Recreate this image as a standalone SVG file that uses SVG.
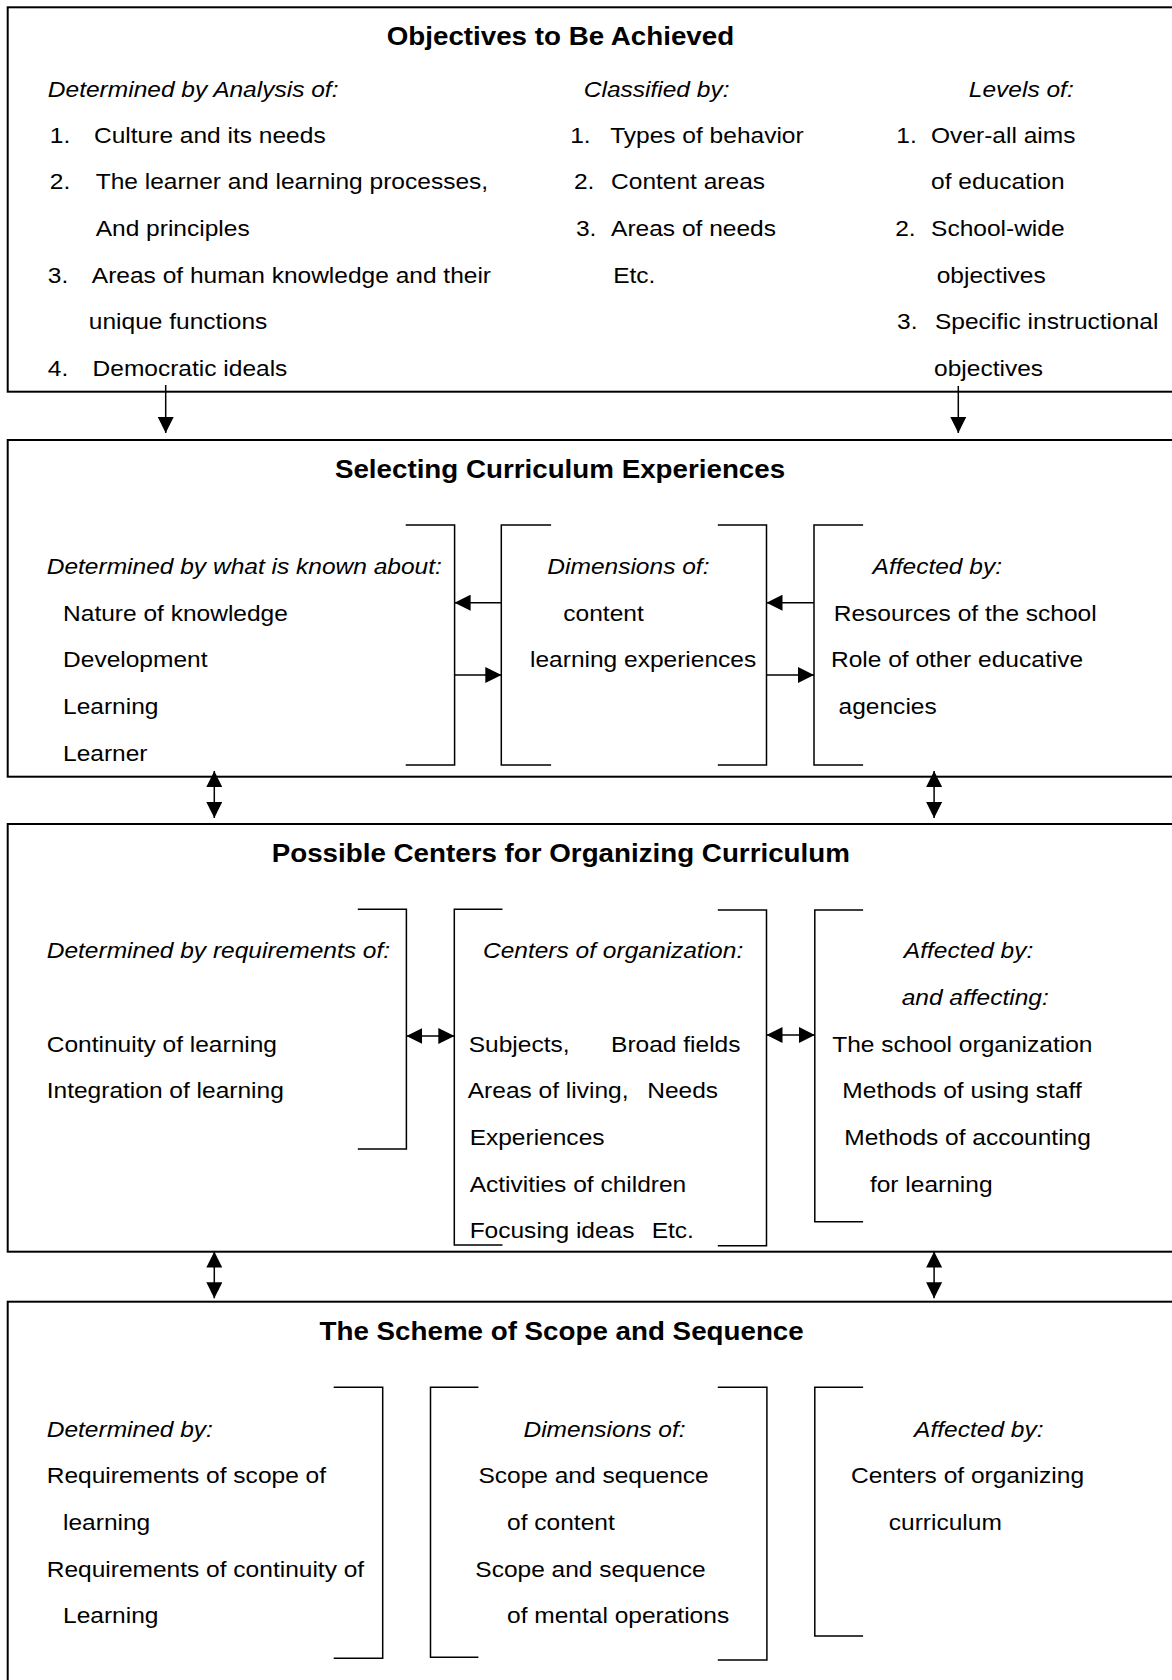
<svg xmlns="http://www.w3.org/2000/svg" width="1172" height="1680" viewBox="0 0 1172 1680">
  <style>
    .box { fill: none; stroke: #000; stroke-width: 2; }
    .brk { fill: none; stroke: #000; stroke-width: 1.5; }
    .con { fill: none; stroke: #000; stroke-width: 1.5; }
    text { font-family: "Liberation Sans", Arial, sans-serif; font-size: 22.1px; fill: #000; }
    .ttl { font-weight: bold; font-size: 25px; }
    .it { font-style: italic; }
  </style>
  <defs>
    <marker id="head" viewBox="0 0 16 16" markerWidth="16" markerHeight="16" refX="16" refY="8" orient="auto-start-reverse" markerUnits="userSpaceOnUse">
      <path d="M0,0 L16,8 L0,16 z" fill="#000"/>
    </marker>
  </defs>
  <rect width="1172" height="1680" fill="#fff"/>

  <!-- Objectives to Be Achieved -->
  <g id="objectives">
    <rect class="box" x="7.7" y="7.3" width="1180" height="384.4"/>
    <g transform="scale(1.11 1)">
      <text class="ttl" x="348.4" y="45">Objectives to Be Achieved</text>
      <text class="it" x="43.1" y="96.7">Determined by Analysis of:</text>
      <text x="44.9" y="142.7">1.</text><text x="84.7" y="142.7">Culture and its needs</text>
      <text x="44.9" y="189.3">2.</text><text x="86.2" y="189.3">The learner and learning processes,</text>
      <text x="86.2" y="236">And principles</text>
      <text x="43.1" y="282.7">3.</text><text x="82.7" y="282.7">Areas of human knowledge and their</text>
      <text x="80" y="329.3">unique functions</text>
      <text x="43.1" y="376">4.</text><text x="83.4" y="376">Democratic ideals</text>

      <text class="it" x="525.9" y="96.7">Classified by:</text>
      <text x="513.7" y="142.7">1.</text><text x="549.7" y="142.7">Types of behavior</text>
      <text x="517.1" y="189.3">2.</text><text x="550.5" y="189.3">Content areas</text>
      <text x="518.9" y="236">3.</text><text x="550.5" y="236">Areas of needs</text>
      <text x="552.4" y="282.7">Etc.</text>

      <text class="it" x="872.8" y="96.7">Levels of:</text>
      <text x="807.5" y="142.7">1.</text><text x="838.8" y="142.7">Over-all aims</text>
      <text x="838.8" y="189.3">of education</text>
      <text x="806.5" y="236">2.</text><text x="838.8" y="236">School-wide</text>
      <text x="843.9" y="282.7">objectives</text>
      <text x="808.2" y="329.3">3.</text><text x="842.3" y="329.3">Specific instructional</text>
      <text x="841.5" y="376">objectives</text>
    </g>
  </g>

  <!-- Selecting Curriculum Experiences -->
  <g id="selecting">
    <rect class="box" x="7.7" y="440" width="1180" height="336.7"/>
    <path class="brk" d="M405.7,525 H454.6 V765 H405.7"/>
    <path class="brk" d="M551.1,525 H501.3 V765 H551.1"/>
    <path class="brk" d="M717.8,525 H766.5 V765 H717.8"/>
    <path class="brk" d="M863.1,525 H814 V765 H863.1"/>
    <g transform="scale(1.11 1)">
      <text class="ttl" x="301.7" y="478">Selecting Curriculum Experiences</text>
      <text class="it" x="42.1" y="574">Determined by what is known about:</text>
      <text x="56.8" y="620.7">Nature of knowledge</text>
      <text x="56.8" y="667.3">Development</text>
      <text x="56.8" y="714">Learning</text>
      <text x="56.8" y="760.7">Learner</text>

      <text class="it" x="493.1" y="574">Dimensions of:</text>
      <text x="507.5" y="620.7">content</text>
      <text x="477.5" y="667.3">learning experiences</text>

      <text class="it" x="786.1" y="574">Affected by:</text>
      <text x="751.1" y="620.7">Resources of the school</text>
      <text x="748.6" y="667.3">Role of other educative</text>
      <text x="755.5" y="714">agencies</text>
    </g>
  </g>

  <!-- Possible Centers for Organizing Curriculum -->
  <g id="centers">
    <rect class="box" x="7.7" y="824" width="1180" height="427.7"/>
    <path class="brk" d="M357.8,909.3 H406.4 V1149 H357.8"/>
    <path class="brk" d="M502.5,909.3 H454.3 V1245 H502.5"/>
    <path class="brk" d="M717.8,910 H766.5 V1245.7 H717.8"/>
    <path class="brk" d="M863.1,910 H814.8 V1221.7 H863.1"/>
    <g transform="scale(1.11 1)">
      <text class="ttl" x="244.8" y="861.7">Possible Centers for Organizing Curriculum</text>
      <text class="it" x="42.1" y="958.3">Determined by requirements of:</text>
      <text x="42.1" y="1051.7">Continuity of learning</text>
      <text x="42.1" y="1098.3">Integration of learning</text>

      <text class="it" x="435.1" y="958.3">Centers of organization:</text>
      <text x="422.3" y="1051.7">Subjects,</text><text x="550.5" y="1051.7">Broad fields</text>
      <text x="421.4" y="1098.3">Areas of living,</text><text x="583.1" y="1098.3">Needs</text>
      <text x="423.1" y="1145">Experiences</text>
      <text x="423.1" y="1191.7">Activities of children</text>
      <text x="423.1" y="1238.3">Focusing ideas</text><text x="587.1" y="1238.3">Etc.</text>

      <text class="it" x="814.3" y="958.3">Affected by:</text>
      <text class="it" x="812.3" y="1005">and affecting:</text>
      <text x="749.7" y="1051.7">The school organization</text>
      <text x="758.9" y="1098.3">Methods of using staff</text>
      <text x="760.6" y="1145">Methods of accounting</text>
      <text x="783.7" y="1191.7">for learning</text>
    </g>
  </g>

  <!-- The Scheme of Scope and Sequence -->
  <g id="scope-sequence">
    <rect class="box" x="7.7" y="1301.7" width="1180" height="400"/>
    <path class="brk" d="M333.7,1387.3 H382.7 V1658.3 H333.7"/>
    <path class="brk" d="M478.4,1387.3 H430.5 V1657.3 H478.4"/>
    <path class="brk" d="M717.8,1387.3 H766.9 V1660 H717.8"/>
    <path class="brk" d="M863.1,1387.3 H814.8 V1636 H863.1"/>
    <g transform="scale(1.11 1)">
      <text class="ttl" x="287.9" y="1340">The Scheme of Scope and Sequence</text>
      <text class="it" x="42.1" y="1436.7">Determined by:</text>
      <text x="42.1" y="1483.3">Requirements of scope of</text>
      <text x="56.8" y="1530">learning</text>
      <text x="42.1" y="1576.7">Requirements of continuity of</text>
      <text x="56.8" y="1623.3">Learning</text>

      <text class="it" x="471.6" y="1436.7">Dimensions of:</text>
      <text x="431" y="1483.3">Scope and sequence</text>
      <text x="456.8" y="1530">of content</text>
      <text x="428.2" y="1576.7">Scope and sequence</text>
      <text x="456.8" y="1623.3">of mental operations</text>

      <text class="it" x="823.5" y="1436.7">Affected by:</text>
      <text x="766.7" y="1483.3">Centers of organizing</text>
      <text x="800.7" y="1530">curriculum</text>
    </g>
  </g>

  <!-- Connectors -->
  <g id="connectors">
    <line class="con" x1="165.7" y1="385" x2="165.7" y2="433" marker-end="url(#head)"/>
    <line class="con" x1="958.3" y1="386" x2="958.3" y2="433" marker-end="url(#head)"/>

    <line class="con" x1="214.3" y1="771" x2="214.3" y2="818" marker-start="url(#head)" marker-end="url(#head)"/>
    <line class="con" x1="934.1" y1="771" x2="934.1" y2="818" marker-start="url(#head)" marker-end="url(#head)"/>

    <line class="con" x1="214.3" y1="1251.5" x2="214.3" y2="1298.3" marker-start="url(#head)" marker-end="url(#head)"/>
    <line class="con" x1="934.1" y1="1251.5" x2="934.1" y2="1298.3" marker-start="url(#head)" marker-end="url(#head)"/>

    <line class="con" x1="501.3" y1="602.7" x2="454.6" y2="602.7" marker-end="url(#head)"/>
    <line class="con" x1="454.6" y1="675" x2="501.3" y2="675" marker-end="url(#head)"/>
    <line class="con" x1="814" y1="602.7" x2="766.5" y2="602.7" marker-end="url(#head)"/>
    <line class="con" x1="766.5" y1="675" x2="814" y2="675" marker-end="url(#head)"/>

    <line class="con" x1="406.4" y1="1036" x2="454.3" y2="1036" marker-start="url(#head)" marker-end="url(#head)"/>
    <line class="con" x1="766.5" y1="1035" x2="814.8" y2="1035" marker-start="url(#head)" marker-end="url(#head)"/>
  </g>
</svg>
